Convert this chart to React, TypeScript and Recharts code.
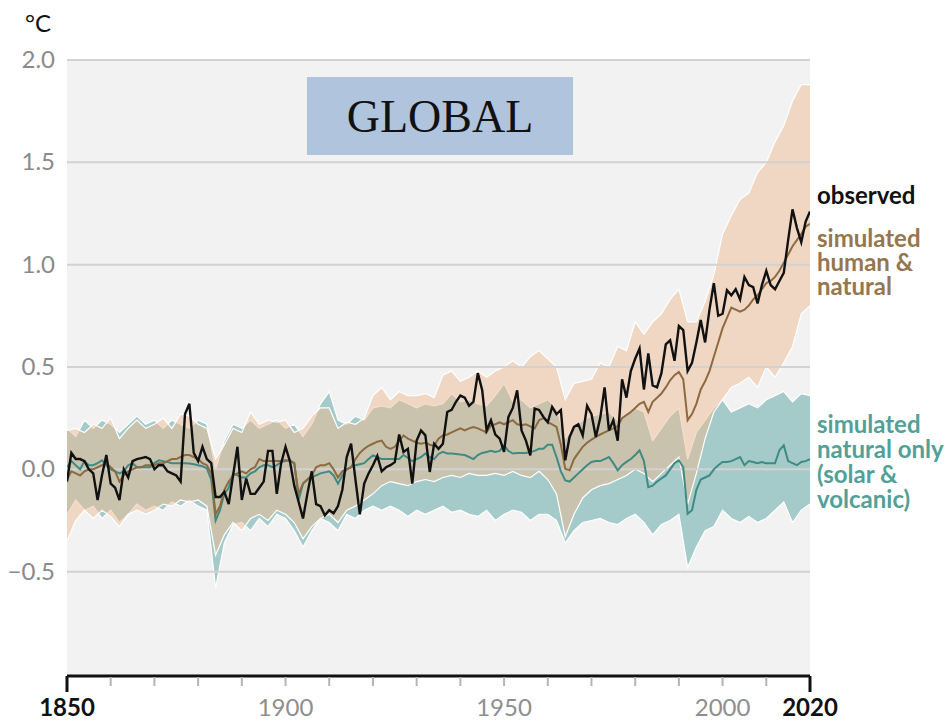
import React from 'react';
import { ComposedChart, Line, Area, XAxis, YAxis, CartesianGrid, ReferenceLine } from 'recharts';

// Global surface temperature change relative to 1850–1900 (°C), annual values 1850–2020
const FIRST_YEAR = 1850;

const observed = [
  -0.06, 0.08, 0.05, 0.05, 0.04, 0.0, -0.02, -0.15, -0.03, 0.07,
  -0.07, -0.09, -0.15, 0.0, -0.04, 0.04, 0.05, 0.055, 0.06, 0.05,
  0.0, 0.02, 0.02, -0.01, -0.02, -0.03, -0.06, 0.27, 0.32, 0.08,
  0.04, 0.11, 0.05, 0.03, -0.135, -0.135, -0.11, -0.17, -0.03, 0.11,
  -0.15, -0.045, -0.12, -0.12, -0.09, -0.06, 0.09, 0.09, -0.12, 0.03,
  0.11, 0.04, -0.08, -0.16, -0.24, -0.12, -0.01, -0.17, -0.18, -0.225,
  -0.2, -0.215, -0.18, -0.1, 0.06, 0.125, -0.05, -0.22, -0.07, -0.02,
  0.02, 0.065, -0.01, 0.01, 0.02, 0.035, 0.17, 0.085, 0.1, -0.07,
  0.14, 0.19, 0.166, -0.013, 0.125, 0.1, 0.125, 0.28, 0.29, 0.33,
  0.36, 0.35, 0.31, 0.33, 0.47, 0.386, 0.19, 0.24, 0.17, 0.15,
  0.085, 0.256, 0.3, 0.386, 0.19, 0.14, 0.068, 0.297, 0.29, 0.256,
  0.23, 0.305, 0.27, 0.29, 0.044, 0.158, 0.207, 0.22, 0.166, 0.31,
  0.27, 0.158, 0.25, 0.4, 0.19, 0.24, 0.14, 0.44, 0.35, 0.48,
  0.54, 0.59, 0.39, 0.566, 0.41, 0.4, 0.47, 0.61, 0.63, 0.53,
  0.7, 0.68, 0.48, 0.52, 0.62, 0.73, 0.62, 0.78, 0.91, 0.75,
  0.76, 0.875, 0.85, 0.88, 0.83, 0.94, 0.9, 0.89, 0.81, 0.9,
  0.97, 0.9, 0.88, 0.92, 0.96, 1.12, 1.27, 1.18, 1.11, 1.21,
  1.26,
];

const humanNatural = [
  -0.05, -0.01, -0.02, -0.03, -0.01, 0.0, 0.0, 0.01, 0.02, 0.03,
  0.01, -0.01, -0.06, -0.03, -0.01, 0.0, 0.01, 0.01, 0.02, 0.02,
  0.02, 0.03, 0.03, 0.04, 0.05, 0.05, 0.06, 0.07, 0.07, 0.06,
  0.05, 0.03, 0.02, -0.02, -0.22, -0.18, -0.1, -0.06, -0.03, -0.02,
  -0.01, -0.02, 0.0, 0.01, 0.05, 0.04, 0.04, 0.04, 0.04, 0.04,
  0.045, 0.04, 0.03, -0.12, -0.07, -0.05, -0.03, 0.01, 0.02, 0.02,
  0.03, 0.0, -0.04, -0.01, 0.0, 0.01, 0.05, 0.08, 0.1, 0.115,
  0.125, 0.135, 0.14, 0.11, 0.1, 0.11, 0.14, 0.165, 0.15, 0.14,
  0.13, 0.125, 0.13, 0.12, 0.115, 0.15, 0.165, 0.17, 0.18, 0.19,
  0.2, 0.19, 0.2, 0.207, 0.2, 0.19, 0.18, 0.215, 0.22, 0.23,
  0.22, 0.23, 0.24, 0.22, 0.215, 0.22, 0.21, 0.2, 0.24, 0.25,
  0.23, 0.22, 0.207, 0.12, 0.003, -0.005, 0.05, 0.08, 0.11, 0.13,
  0.145, 0.158, 0.17, 0.18, 0.19, 0.2, 0.21, 0.25, 0.265, 0.28,
  0.3, 0.32, 0.33, 0.28, 0.33, 0.35, 0.37, 0.4, 0.435, 0.46,
  0.476, 0.44, 0.24, 0.27, 0.32, 0.39, 0.43, 0.48, 0.55, 0.62,
  0.69, 0.74, 0.79, 0.78, 0.77, 0.78, 0.8, 0.83, 0.85, 0.88,
  0.91, 0.92, 0.94, 0.97, 1.01, 1.05, 1.09, 1.12, 1.15, 1.185,
  1.2,
];

const naturalOnly = [
  0.01, 0.04, 0.02, 0.0, 0.04, 0.02, 0.02, 0.03, 0.044, 0.02,
  0.0, -0.01, -0.02, -0.01, 0.02, 0.03, 0.01, 0.01, 0.01, 0.01,
  0.03, 0.044, 0.04, 0.035, 0.03, 0.03, 0.03, 0.03, 0.028, 0.025,
  0.02, 0.015, 0.005, -0.05, -0.25, -0.2, -0.12, -0.09, -0.02, -0.03,
  -0.04, -0.04, -0.02, -0.01, 0.01, 0.02, 0.02, 0.01, 0.02, 0.036,
  0.04, 0.044, 0.03, -0.15, -0.07, -0.05, -0.04, -0.03, -0.02, -0.015,
  -0.01, -0.03, -0.07, -0.03, 0.0, 0.01, 0.02, 0.025, 0.03, 0.05,
  0.068, 0.06, 0.05, 0.05, 0.05, 0.05, 0.05, 0.07, 0.055, 0.04,
  0.05, 0.06, 0.077, 0.06, 0.05, 0.075, 0.085, 0.077, 0.077, 0.075,
  0.072, 0.07, 0.06, 0.05, 0.07, 0.08, 0.085, 0.09, 0.085, 0.09,
  0.117, 0.09, 0.077, 0.08, 0.08, 0.08, 0.085, 0.09, 0.1, 0.1,
  0.12, 0.12, 0.06, -0.01, -0.054, -0.06, -0.04, -0.02, 0.0, 0.02,
  0.036, 0.04, 0.04, 0.05, 0.06, 0.03, -0.005, 0.02, 0.036, 0.05,
  0.07, 0.093, 0.04, -0.087, -0.08, -0.06, -0.045, -0.03, 0.0, 0.03,
  0.044, 0.01, -0.217, -0.2, -0.1, -0.05, -0.04, -0.03, 0.0, 0.02,
  0.036, 0.036, 0.04, 0.05, 0.06, 0.02, 0.04, 0.036, 0.03, 0.035,
  0.03, 0.03, 0.03, 0.093, 0.117, 0.04, 0.03, 0.02, 0.036, 0.04,
  0.05,
];

// Model ranges, every second year 1850–2020
const BAND_STEP = 2;

const humanNaturalHigh = [
  0.19, 0.2, 0.18, 0.22, 0.2, 0.25, 0.15, 0.2, 0.24, 0.2,
  0.22, 0.25, 0.2, 0.27, 0.26, 0.22, 0.2, 0.05, 0.12, 0.2,
  0.18, 0.28, 0.22, 0.24, 0.23, 0.24, 0.18, 0.2, 0.26, 0.3,
  0.3, 0.2, 0.23, 0.22, 0.25, 0.36, 0.4, 0.34, 0.38, 0.36,
  0.36, 0.37, 0.35, 0.46, 0.48, 0.43, 0.45, 0.48, 0.45, 0.48,
  0.5, 0.53, 0.5, 0.55, 0.58, 0.54, 0.5, 0.34, 0.42, 0.43,
  0.44, 0.52, 0.5, 0.6, 0.58, 0.72, 0.66, 0.72, 0.76, 0.83,
  0.88, 0.72, 0.72, 0.82, 0.95, 1.15, 1.24, 1.32, 1.35, 1.45,
  1.5, 1.6, 1.68, 1.8, 1.88, 1.88,
];

const humanNaturalLow = [
  -0.35, -0.25, -0.2, -0.24, -0.2, -0.23, -0.28, -0.22, -0.2, -0.22,
  -0.2, -0.17, -0.18, -0.15, -0.16, -0.15, -0.18, -0.42, -0.32, -0.26,
  -0.3, -0.24, -0.22, -0.25, -0.2, -0.22, -0.26, -0.34, -0.28, -0.24,
  -0.22, -0.26, -0.2, -0.18, -0.15, -0.12, -0.08, -0.06, -0.07, -0.08,
  -0.06, -0.05, -0.06, -0.04, -0.03, -0.04, -0.02, -0.03, -0.03, -0.02,
  -0.03, -0.01, -0.03, -0.04, -0.01, -0.05, -0.12, -0.33, -0.22, -0.14,
  -0.1, -0.08, -0.07, -0.05, -0.03, 0.0, -0.02, -0.06, -0.02, 0.02,
  0.06, -0.17, -0.02, 0.15, 0.28, 0.34, 0.4, 0.42, 0.45, 0.4,
  0.5, 0.45, 0.52, 0.6, 0.76, 0.8,
];

const naturalHigh = [
  0.2, 0.16, 0.24, 0.2, 0.24, 0.22, 0.18, 0.22, 0.26, 0.22,
  0.24, 0.2, 0.24, 0.22, 0.2, 0.24, 0.22, 0.0, 0.14, 0.22,
  0.2, 0.24, 0.2, 0.22, 0.24, 0.2, 0.22, 0.16, 0.22, 0.32,
  0.38, 0.24, 0.22, 0.26, 0.24, 0.3, 0.31, 0.3, 0.34, 0.32,
  0.3, 0.32, 0.31, 0.32, 0.37, 0.33, 0.34, 0.32, 0.31, 0.36,
  0.42, 0.33, 0.34, 0.3, 0.32, 0.34, 0.3, 0.15, 0.2, 0.24,
  0.26, 0.27, 0.28, 0.24, 0.26, 0.3, 0.28, 0.14, 0.2, 0.26,
  0.3, 0.05, 0.18, 0.24, 0.3, 0.34, 0.28, 0.3, 0.32, 0.3,
  0.34, 0.36, 0.38, 0.33, 0.37, 0.36,
];

const naturalLow = [
  -0.22, -0.15, -0.2, -0.18, -0.24, -0.2, -0.26, -0.22, -0.17, -0.2,
  -0.18, -0.2, -0.16, -0.18, -0.15, -0.18, -0.2, -0.58, -0.36, -0.27,
  -0.26, -0.3, -0.24, -0.28, -0.22, -0.24, -0.3, -0.38, -0.3, -0.24,
  -0.26, -0.3, -0.22, -0.24, -0.2, -0.18, -0.2, -0.18, -0.2, -0.23,
  -0.2, -0.22, -0.2, -0.18, -0.21, -0.2, -0.22, -0.23, -0.2, -0.25,
  -0.22, -0.2, -0.21, -0.25, -0.22, -0.22, -0.25, -0.36, -0.3, -0.26,
  -0.25, -0.24, -0.26, -0.27, -0.24, -0.22, -0.26, -0.32, -0.27, -0.25,
  -0.22, -0.48, -0.38, -0.3, -0.28, -0.2, -0.24, -0.26, -0.23, -0.26,
  -0.24, -0.2, -0.16, -0.26, -0.2, -0.17,
];

const yTicks = [-0.5, 0, 0.5, 1, 1.5, 2];
const xTicks = [1850, 1860, 1870, 1880, 1890, 1900, 1910, 1920, 1930, 1940, 1950, 1960, 1970, 1980, 1990, 2000, 2010, 2020];
const xLabels: Record<number, { text: string; bold: boolean }> = {
  1850: { text: '1850', bold: true },
  1900: { text: '1900', bold: false },
  1950: { text: '1950', bold: false },
  2000: { text: '2000', bold: false },
  2020: { text: '2020', bold: true },
};

// Series captions at the right-hand edge
const observedCaption = ['observed'];
const humanNaturalCaption = ['simulated', 'human &', 'natural'];
const naturalCaption = ['simulated', 'natural only', '(solar &', 'volcanic)'];

const annualRows = observed.map((v, i) => ({
  year: FIRST_YEAR + i,
  observed: v,
  humanNatural: humanNatural[i],
  naturalOnly: naturalOnly[i],
}));

const bandRows = humanNaturalLow.map((lo, i) => ({
  year: FIRST_YEAR + BAND_STEP * i,
  humanNaturalRange: [lo, humanNaturalHigh[i]],
  naturalRange: [naturalLow[i], naturalHigh[i]],
}));

const FONT = 'Lato, "Open Sans", sans-serif';
const GRID = '#d2d2d2';
const BROWN = '#8d6a40';
const TEAL = '#3f8b84';

const YTick = (props: any) => {
  const { x, y, payload } = props;
  const v: number = payload.value;
  const label = (v < 0 ? '\u2212' : '') + Math.abs(v).toFixed(1);
  return (
    <text x={x - 12} y={y} dy={8} textAnchor="end" fill="#8a8a8a" fontSize={24} fontFamily={FONT}>
      {label}
    </text>
  );
};

const XTick = (props: any) => {
  const { x, y, payload } = props;
  const v: number = payload.value;
  const lab = xLabels[v];
  const major = v === 1850 || v === 2020;
  return (
    <g>
      {major ? (
        <line x1={x} x2={x} y1={y} y2={y + 16} stroke="#111" strokeWidth={3} />
      ) : (
        <line x1={x} x2={x} y1={y + 1} y2={y + 10} stroke="#b4b4b4" strokeWidth={2} />
      )}
      {lab && (
        <text
          x={x}
          y={y + 40}
          textAnchor="middle"
          fontSize={24}
          fontFamily={FONT}
          fontWeight={lab.bold ? 700 : 400}
          fill={lab.bold ? '#111' : '#8e8e8e'}
        >
          {lab.text}
        </text>
      )}
    </g>
  );
};

const Caption = ({ lines, top, step, color }: { lines: string[]; top: number; step: number; color: string }) => (
  <>
    {lines.map((line, i) => (
      <div
        key={i}
        style={{
          position: 'absolute',
          left: 817,
          top: top + i * step,
          height: step,
          fontFamily: FONT,
          fontWeight: 700,
          fontSize: 24,
          lineHeight: `${step}px`,
          whiteSpace: 'nowrap',
          color,
        }}
      >
        {line}
      </div>
    ))}
  </>
);

export default function App() {
  return (
    <div style={{ position: 'absolute', left: 0, top: 0, width: 948, height: 720, background: '#fff' }}>
      <ComposedChart
        width={948}
        height={720}
        data={annualRows}
        margin={{ top: 60, right: 138, bottom: 0, left: 0 }}
      >
        <CartesianGrid horizontal={false} vertical={false} fill="#f2f2f2" stroke="none" />
        <XAxis
          dataKey="year"
          type="number"
          domain={[1850, 2020]}
          ticks={xTicks}
          interval={0}
          height={44}
          tickSize={0}
          tickMargin={0}
          tickLine={false}
          axisLine={{ stroke: '#111', strokeWidth: 3 }}
          tick={<XTick />}
          allowDataOverflow
        />
        <YAxis
          type="number"
          domain={[-1.01, 2]}
          ticks={yTicks}
          interval={0}
          width={67}
          tickSize={0}
          tickMargin={0}
          axisLine={false}
          tickLine={false}
          tick={<YTick />}
          allowDataOverflow
        />
        <Area
          data={bandRows}
          dataKey="naturalRange"
          type="linear"
          fill="#6fb0ae"
          fillOpacity={0.6}
          stroke="#ffffff"
          strokeWidth={1.2}
          isAnimationActive={false}
        />
        <Area
          data={bandRows}
          dataKey="humanNaturalRange"
          type="linear"
          fill="#eebc94"
          fillOpacity={0.5}
          stroke="#ffffff"
          strokeWidth={1.2}
          isAnimationActive={false}
        />
        {yTicks.map((t) => (
          <ReferenceLine key={t} y={t} stroke={GRID} strokeWidth={2} />
        ))}
        <Line dataKey="naturalOnly" type="linear" stroke={TEAL} strokeWidth={2} dot={false} isAnimationActive={false} />
        <Line dataKey="humanNatural" type="linear" stroke={BROWN} strokeWidth={2} dot={false} isAnimationActive={false} />
        <Line dataKey="observed" type="linear" stroke="#111" strokeWidth={2.4} dot={false} isAnimationActive={false} />
      </ComposedChart>

      <div style={{ position: 'absolute', left: 25, top: 8, fontFamily: FONT, fontSize: 24, color: '#111' }}>°C</div>

      <div
        style={{
          position: 'absolute',
          left: 307,
          top: 77,
          width: 266,
          height: 78,
          background: '#b0c4de',
          display: 'flex',
          alignItems: 'center',
          justifyContent: 'center',
          fontFamily: '"Liberation Serif", "DejaVu Serif", serif',
          fontSize: 46,
          color: '#111',
        }}
      >
        GLOBAL
      </div>

      <Caption lines={observedCaption} top={183} step={24} color="#111" />
      <Caption lines={humanNaturalCaption} top={226} step={24} color="#94764f" />
      <Caption lines={naturalCaption} top={411} step={25} color="#52a097" />
    </div>
  );
}
